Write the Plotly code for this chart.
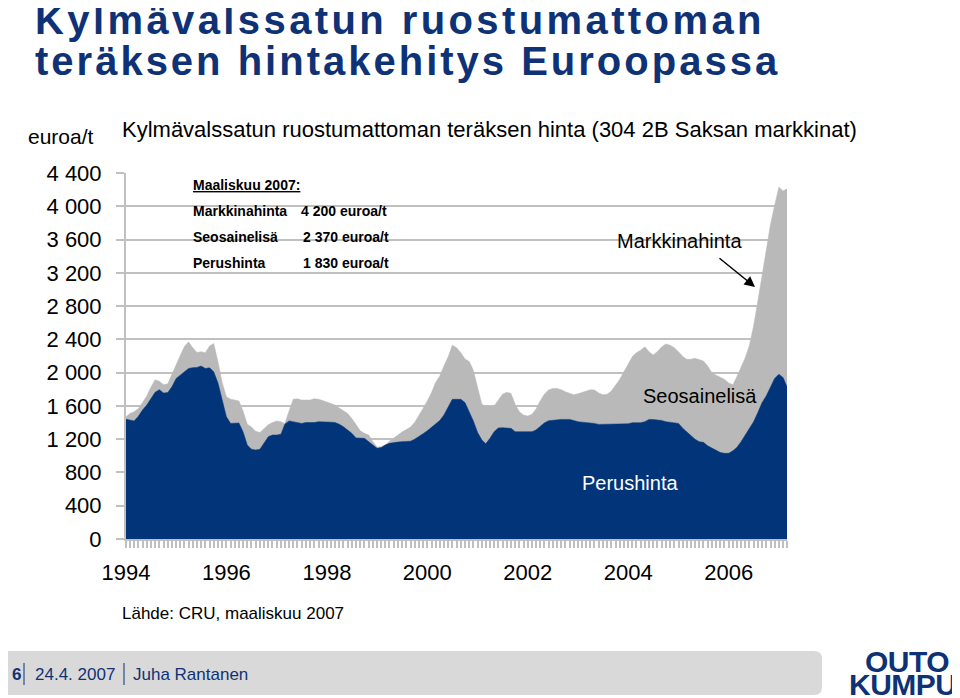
import pandas as pd
import plotly.graph_objects as go

# monthly data, Jan 1994 - Mar 2007 (EUR/t)
kuukaudet = pd.date_range("1994-01-01", "2007-03-01", freq="MS")

markkinahinta = [
    1470, 1511, 1531, 1570, 1640, 1720, 1825, 1915, 1895, 1855,
    1865, 1985, 2110, 2212, 2312, 2370, 2300, 2242, 2252, 2240,
    2320, 2350, 2130, 1880, 1711, 1680, 1670, 1660, 1540, 1380,
    1345, 1295, 1280, 1330, 1375, 1400, 1420, 1410, 1390, 1540,
    1680, 1685, 1670, 1670, 1670, 1685, 1680, 1665, 1645, 1630,
    1610, 1575, 1545, 1510, 1450, 1380, 1300, 1270, 1250, 1170,
    1105, 1110, 1130, 1175, 1215, 1255, 1285, 1315, 1345, 1400,
    1480, 1570, 1660, 1760, 1880, 1960, 2080, 2190, 2330, 2300,
    2240, 2165, 2135, 2030, 1820, 1620, 1590, 1590, 1600, 1670,
    1740, 1765, 1750, 1620, 1530, 1490, 1478, 1500, 1560, 1660,
    1740, 1790, 1810, 1810, 1795, 1770, 1750, 1735, 1745, 1765,
    1775, 1795, 1790, 1755, 1735, 1740, 1780, 1850, 1920, 2010,
    2110, 2195, 2240, 2270, 2310, 2250, 2212, 2255, 2310, 2345,
    2330, 2300, 2250, 2195, 2160, 2160, 2172, 2160, 2140, 2080,
    2000, 1970, 1940, 1920, 1875, 1855, 1950, 2060, 2180, 2330,
    2560, 2860, 3170, 3480, 3780, 4010, 4230, 4185, 4210,
]

perushinta = [
    1440, 1430, 1420, 1475, 1550, 1610, 1680, 1765, 1795, 1755,
    1760, 1830, 1930, 1970, 2010, 2050, 2060, 2063, 2079, 2050,
    2058, 2010, 1875, 1690, 1470, 1390, 1390, 1395, 1290, 1130,
    1080, 1070, 1080, 1160, 1230, 1250, 1250, 1260, 1380, 1420,
    1410, 1400, 1390, 1400, 1400, 1400, 1410, 1410, 1410, 1405,
    1400, 1380, 1350, 1310, 1270, 1215, 1215, 1210, 1170, 1130,
    1090, 1100, 1130, 1150, 1160, 1165, 1170, 1172, 1176, 1200,
    1230, 1265, 1300, 1340, 1380, 1425, 1490, 1590, 1679, 1679,
    1679, 1640, 1530, 1420, 1280, 1190, 1145, 1210, 1290, 1335,
    1338, 1338, 1330, 1290, 1290, 1290, 1290, 1290, 1310, 1350,
    1395, 1422, 1430, 1438, 1438, 1438, 1438, 1425, 1410, 1405,
    1402, 1400, 1390, 1378, 1378, 1378, 1378, 1378, 1378, 1378,
    1385, 1398, 1398, 1398, 1410, 1438, 1436, 1430, 1425, 1410,
    1405, 1400, 1390, 1330, 1290, 1250, 1200, 1170, 1162, 1120,
    1090, 1062, 1040, 1030, 1030, 1062, 1100, 1170, 1250, 1340,
    1410, 1520, 1640, 1720, 1820, 1930, 1980, 1940, 1830,
]

x_tickvals = ["1994-01-01", "1996-01-01", "1998-01-01", "2000-01-01",
              "2002-01-01", "2004-01-01", "2006-01-01"]
x_ticktext = ["1994", "1996", "1998", "2000", "2002", "2004", "2006"]
y_tickvals = [0, 400, 800, 1200, 1600, 2000, 2400, 2800, 3200, 3600, 4000, 4400]
y_ticktext = ["0", "400", "800", "1 200", "1 600", "2 000", "2 400",
              "2 800", "3 200", "3 600", "4 000", "4 400"]

NAVY = "#0e3275"
SININEN = "#023479"
HARMAA = "#b9b9b9"
VIIVA = "#c0c0c0"
FONT = "Liberation Sans, Arial, sans-serif"

# plot area in window pixels; the page body adds an 8px margin
OFF = 8
L, R, T, B = 126, 787, 173, 539


def px(x):
    return (x - L) / (R - L)


def py(y):
    return (B - y) / (B - T)


fig = go.Figure()
fig.add_trace(go.Scatter(x=kuukaudet, y=markkinahinta, mode="lines", fill="tozeroy",
                         fillcolor=HARMAA, line=dict(color=HARMAA, width=0.5)))
fig.add_trace(go.Scatter(x=kuukaudet, y=perushinta, mode="lines", fill="tozeroy",
                         fillcolor=SININEN, line=dict(color=SININEN, width=0.5)))

fig.update_xaxes(
    range=[kuukaudet[0], kuukaudet[-1]], tickvals=x_tickvals, ticktext=x_ticktext,
    showgrid=False, zeroline=False, showline=True, linecolor=VIIVA, linewidth=2,
    ticks="outside", ticklen=7, tickwidth=2, tickcolor=VIIVA,
    minor=dict(dtick="M1", ticks="outside", ticklen=7, tickwidth=2, tickcolor=VIIVA, showgrid=False),
    tickfont=dict(size=22, color="black"), ticklabelstandoff=6,
)
fig.update_yaxes(
    range=[0, 4400], tickvals=y_tickvals, ticktext=y_ticktext,
    showgrid=True, gridcolor=VIIVA, gridwidth=2, zeroline=False,
    showline=True, linecolor=VIIVA, linewidth=2,
    ticks="outside", ticklen=8, tickwidth=2, tickcolor=VIIVA,
    tickfont=dict(size=22, color="black"), ticklabelstandoff=10,
)


def teksti(x, y, s, size, color="black", anchor="left", **kw):
    fig.add_annotation(x=px(x), y=py(y), xref="paper", yref="paper", text=s,
                       showarrow=False, xanchor=anchor, yanchor="middle",
                       font=dict(family=FONT, size=size, color=color), **kw)


# title
otsikko = "<b><span style='letter-spacing:%spx'>%s</span></b>"
teksti(33, 20, otsikko % (3.4, "Kylmävalssatun ruostumattoman"), 40, NAVY)
teksti(33, 61, otsikko % (3.0, "teräksen hintakehitys Euroopassa"), 40, NAVY)

teksti(26, 136, "euroa/t", 21)
teksti(120, 129, "Kylmävalssatun ruostumattoman teräksen hinta (304 2B Saksan markkinat)", 22)

# March 2007 box
teksti(191, 185, "<b><u>Maaliskuu 2007:</u></b>", 14)
teksti(191, 211, "<b>Markkinahinta</b>", 14)
teksti(191, 237, "<b>Seosainelisä</b>", 14)
teksti(191, 263, "<b>Perushinta</b>", 14)
teksti(299, 211, "<b>4 200 euroa/t</b>", 14)
teksti(301, 237, "<b>2 370 euroa/t</b>", 14)
teksti(301, 263, "<b>1 830 euroa/t</b>", 14)

# series labels
teksti(679, 241, "Markkinahinta", 20, anchor="center")
teksti(700, 396, "Seosainelisä", 20, anchor="center")
teksti(630, 483, "Perushinta", 20, "white", anchor="center")
fig.add_annotation(x=px(755), y=py(287), xref="paper", yref="paper", text="",
                   showarrow=True, ax=-37, ay=-30, arrowhead=2, arrowsize=1.4,
                   arrowwidth=1.5, arrowcolor="black")

teksti(120, 613, "Lähde: CRU, maaliskuu 2007", 17)

# footer bar
x0, x1, y0, y1 = px(0), px(822), py(695), py(651)
rx, ry = 8 / (R - L), 8 / (B - T)
polku = (f"M {x0 + rx},{y1} L {x1 - rx},{y1} Q {x1},{y1} {x1},{y1 - ry} "
         f"L {x1},{y0 + ry} Q {x1},{y0} {x1 - rx},{y0} L {x0 + rx},{y0} "
         f"Q {x0},{y0} {x0},{y0 + ry} L {x0},{y1 - ry} Q {x0},{y1} {x0 + rx},{y1} Z")
fig.add_shape(type="path", path=polku, xref="paper", yref="paper",
              fillcolor="#d9d9d9", line=dict(width=0), layer="below")
for xs in (24, 124):
    fig.add_shape(type="line", xref="paper", yref="paper", x0=px(xs), x1=px(xs),
                  y0=py(663), y1=py(685), line=dict(color=NAVY, width=1))
teksti(10, 674, "<b>6</b>", 17, NAVY)
teksti(33, 674, "24.4. 2007", 17, NAVY)
teksti(131, 674, "Juha Rantanen", 17, NAVY)

# logo
teksti(907, 661, "<b><span style='letter-spacing:-0.5px'>OUTO</span></b>", 30, NAVY, anchor="center")
teksti(903, 684, "<b><span style='letter-spacing:-0.5px'>KUMPU</span></b>", 30, NAVY, anchor="center")

fig.update_layout(
    width=960, height=698,
    margin=dict(l=L - OFF, r=960 - R + OFF, t=T - OFF, b=698 - B + OFF),
    paper_bgcolor="white", plot_bgcolor="white", showlegend=False, hovermode=False,
    font=dict(family=FONT, color="black"),
)

fig.write_html("out.html")
